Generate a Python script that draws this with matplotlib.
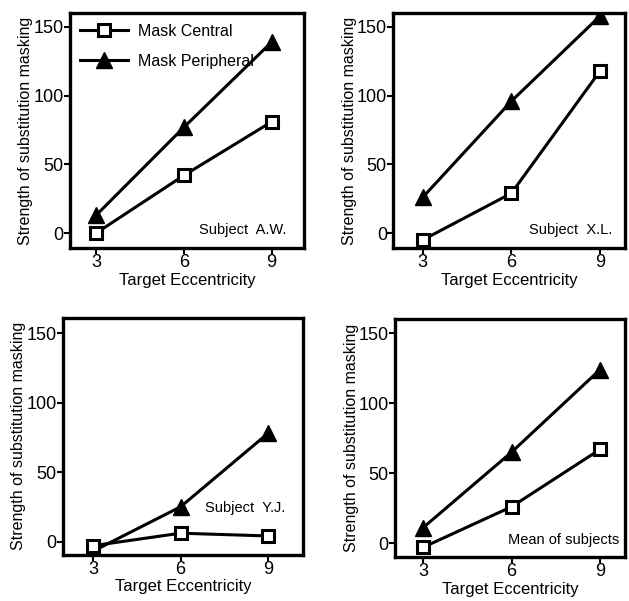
import matplotlib.pyplot as plt

plt.rcParams['font.family'] = ['Liberation Sans', 'DejaVu Sans']

eccentricity = [3, 6, 9]
eccentricity_labels = ['3', '6', '9']

# strength of substitution masking per subject
central_aw = [0, 42, 81]
peripheral_aw = [13, 77, 139]
central_xl = [-5, 29, 118]
peripheral_xl = [26, 96, 158]
central_yj = [-3, 6, 4]
peripheral_yj = [-7, 25, 78]
central_mean = [-3, 26, 67]
peripheral_mean = [11, 65, 124]

panel_names = ['Subject  A.W.', 'Subject  X.L.', 'Subject  Y.J.', 'Mean of subjects']
y_ticks = [0, 50, 100, 150]

fig = plt.figure(figsize=(6.29, 6.01), dpi=100)

positions = [
    [0.111, 0.587, 0.372, 0.391],
    [0.625, 0.587, 0.369, 0.391],
    [0.100, 0.077, 0.382, 0.394],
    [0.628, 0.073, 0.366, 0.396],
]
xlims = [(2.1, 10.1), (2.0, 9.85), (1.97, 10.2), (2.05, 9.85)]
ylims = [(-11, 160), (-11, 160), (-9.5, 161), (-10, 160)]
label_pos = [(0.927, 0.077), (0.944, 0.077), (0.925, 0.198), (0.975, 0.07)]

data = [
    (central_aw, peripheral_aw),
    (central_xl, peripheral_xl),
    (central_yj, peripheral_yj),
    (central_mean, peripheral_mean),
]

for i in range(4):
    ax = fig.add_axes(positions[i])
    central, peripheral = data[i]
    ax.plot(eccentricity, peripheral, color='black', linewidth=2.2,
            marker='^', markersize=12, markerfacecolor='black',
            markeredgecolor='black', label='Mask Peripheral', zorder=3)
    ax.plot(eccentricity, central, color='black', linewidth=2.2,
            marker='s', markersize=8.5, markerfacecolor='white',
            markeredgecolor='black', markeredgewidth=2.2,
            label='Mask Central', zorder=4)

    ax.set_xlim(xlims[i])
    ax.set_ylim(ylims[i])
    ax.set_xticks(eccentricity)
    ax.set_xticklabels(eccentricity_labels)
    ax.set_yticks(y_ticks)
    ax.tick_params(direction='out', length=4, width=1.5, labelsize=13, pad=0.5)
    for spine in ax.spines.values():
        spine.set_linewidth(2.4)

    ax.set_xlabel('Target Eccentricity', fontsize=12, labelpad=1)
    ax.set_ylabel('Strength of substitution masking', fontsize=11.5, labelpad=0)

    ax.text(label_pos[i][0], label_pos[i][1], panel_names[i], transform=ax.transAxes,
            ha='right', va='center', fontsize=10.5)

    if i == 0:
        handles, labels = ax.get_legend_handles_labels()
        ax.legend(handles[::-1], labels[::-1], loc='upper left', frameon=False,
                  fontsize=11.5, handlelength=3.0, borderaxespad=0.25,
                  labelspacing=0.95, handletextpad=0.6)

fig.savefig('out.png', dpi=100)
